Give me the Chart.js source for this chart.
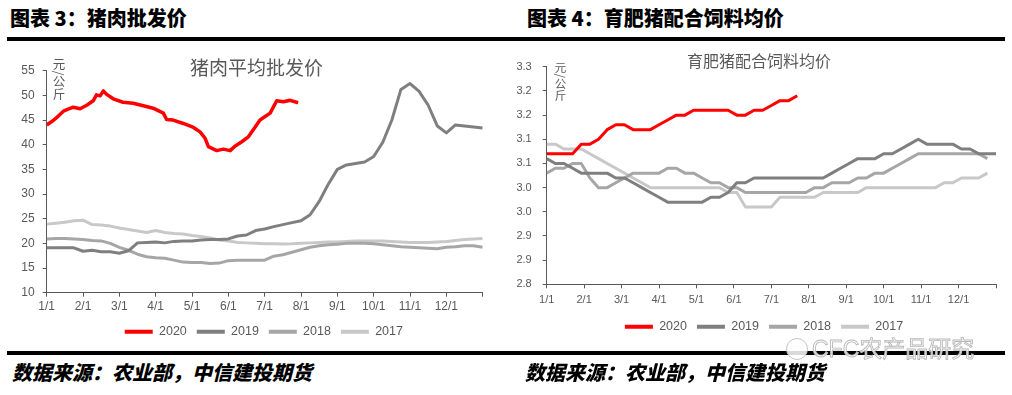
<!DOCTYPE html>
<html lang="zh-CN">
<head>
<meta charset="utf-8">
<title>猪肉批发价 / 育肥猪配合饲料均价</title>
<script src="https://cdn.jsdelivr.net/npm/chart.js@4.4.1/dist/chart.umd.min.js"></script>
<style>
  html, body { margin:0; padding:0; background:#fff; }
  body { position:relative; width:1012px; height:395px; overflow:hidden; font-family:"Noto Sans CJK SC","Noto Sans",sans-serif; }
  .hdr { position:absolute; top:5px; height:26px; line-height:26px; font-size:20px; font-weight:900; color:#000; white-space:nowrap; }
  .rule { position:absolute; left:7px; width:998px; height:4px; background:#000; }
  .src { position:absolute; top:359px; line-height:26px; font-size:20px; font-weight:900; font-style:italic; color:#000; white-space:nowrap; }
  .cv { position:absolute; }
  .ttl { position:absolute; color:#595959; white-space:nowrap; line-height:1; }
  .unit { position:absolute; writing-mode:vertical-rl; color:#595959; line-height:1; white-space:nowrap; }
  .wm { position:absolute; left:812px; top:336px; font-size:23px; line-height:26px; color:rgba(255,255,255,0.85); -webkit-text-stroke:0.9px #b8b8b8; white-space:nowrap; font-family:"Liberation Sans","Noto Sans CJK SC",sans-serif; }
  .wmi { position:absolute; left:786px; top:338px; width:20px; height:20px; border:1.5px solid #c4c4c4; border-radius:50%; background:rgba(255,255,255,0.85); }
</style>
</head>
<body>
<div class="hdr" style="left:10px">图表 3：猪肉批发价</div>
<div class="hdr" style="left:527px">图表 4：育肥猪配合饲料均价</div>
<div class="rule" style="top:37px"></div>

<canvas id="pork" class="cv" width="500" height="298" style="left:0;top:50px;width:500px;height:298px"></canvas>
<canvas id="feed" class="cv" width="507" height="298" style="left:505px;top:45px;width:507px;height:298px"></canvas>

<div class="ttl" style="left:190px;top:57px;font-size:19px">猪肉平均批发价</div>
<div class="ttl" style="left:687px;top:52px;font-size:16px">育肥猪配合饲料均价</div>
<div class="unit" style="left:52px;top:58px;font-size:12.5px">元/公斤</div>
<div class="unit" style="left:554px;top:62px;font-size:11.5px">元/公斤</div>

<div class="rule" style="top:351px"></div>
<div class="wmi"></div>
<div class="wm">CFC农产品研究</div>
<div class="src" style="left:12px">数据来源：农业部，中信建投期货</div>
<div class="src" style="left:525px">数据来源：农业部，中信建投期货</div>

<script>
// ---------- shared labels ----------
const monthLabels = ['1/1','2/1','3/1','4/1','5/1','6/1','7/1','8/1','9/1','10/1','11/1','12/1'];
const seriesNames = ['2020','2019','2018','2017'];
const seriesColors = ['#ff0000','#7f7f7f','#a6a6a6','#c8c8c8'];

// ---------- 图表3 猪肉平均批发价 (元/公斤), x = position in year (months) ----------
const porkGridX = [0,0.25,0.5,0.75,1,1.25,1.5,1.75,2,2.25,2.5,2.75,3,3.25,3.5,3.75,4,4.25,4.5,4.75,5,5.25,5.5,5.75,6,6.25,6.5,6.75,7,7.25,7.5,7.75,8,8.25,8.5,8.75,9,9.25,9.5,9.75,10,10.25,10.5,10.75,11,11.25,11.5,11.75,12];
const pork2020X = [0,0.18,0.32,0.46,0.59,0.73,0.92,1.1,1.28,1.37,1.47,1.56,1.65,1.83,2.1,2.38,2.66,2.93,3.21,3.3,3.48,3.76,4.04,4.22,4.36,4.45,4.68,4.86,5.05,5.18,5.37,5.55,5.7,5.87,6.15,6.33,6.51,6.7,6.92];
const pork2020 = [44.0,44.9,45.8,46.8,47.2,47.6,47.3,48.0,48.9,50.1,49.9,50.9,50.2,49.3,48.6,48.4,47.9,47.4,46.4,45.1,45.0,44.3,43.5,42.6,41.3,39.6,38.8,39.1,38.8,39.7,40.6,41.6,43.2,45.0,46.4,48.9,48.7,49.0,48.5];
const pork2019 = [19.1,19.1,19.1,19.1,18.4,18.6,18.3,18.3,18.0,18.5,20.1,20.2,20.3,20.1,20.4,20.5,20.5,20.7,20.8,20.8,20.9,21.5,21.7,22.6,22.9,23.4,23.8,24.2,24.6,25.8,28.5,32.0,35.0,35.9,36.2,36.5,37.6,40.5,45.0,51.2,52.4,50.8,48.0,43.8,42.4,44.0,43.8,43.6,43.4];
const pork2018 = [20.9,21.0,21.0,20.9,20.8,20.6,20.5,20.0,19.2,18.6,17.8,17.3,17.1,17.0,16.6,16.2,16.1,16.1,15.9,16.0,16.5,16.6,16.6,16.6,16.6,17.4,17.7,18.2,18.7,19.2,19.5,19.7,19.8,20.0,20.0,20.0,19.9,19.7,19.5,19.3,19.2,19.1,19.0,18.9,19.2,19.3,19.5,19.5,19.2];
const pork2017 = [23.9,24.1,24.3,24.6,24.7,23.8,23.7,23.5,23.1,22.8,22.5,22.2,22.6,22.2,22.0,21.9,21.6,21.4,21.1,20.7,20.5,20.2,20.1,20.0,19.9,19.9,19.85,19.9,20.0,20.1,20.2,20.3,20.3,20.4,20.5,20.5,20.5,20.5,20.4,20.3,20.2,20.2,20.2,20.3,20.4,20.6,20.8,20.9,21.0];
const porkYTicks = {min:10, max:55, step:5};

// ---------- 图表4 育肥猪配合饲料均价 (元/公斤), weekly ----------
const feed2020 = [3.07,3.07,3.07,3.07,3.09,3.09,3.10,3.12,3.13,3.13,3.12,3.12,3.12,3.13,3.14,3.15,3.15,3.16,3.16,3.16,3.16,3.16,3.15,3.15,3.16,3.16,3.17,3.18,3.18,3.19];
const feed2019 = [3.06,3.05,3.05,3.04,3.03,3.03,3.03,3.03,3.02,3.02,3.01,3.00,2.99,2.98,2.97,2.97,2.97,2.97,2.97,2.98,2.98,2.99,3.01,3.01,3.02,3.02,3.02,3.02,3.02,3.02,3.02,3.02,3.02,3.03,3.04,3.05,3.06,3.06,3.06,3.07,3.07,3.08,3.09,3.10,3.09,3.09,3.09,3.09,3.08,3.08,3.07,3.07,3.07];
const feed2018 = [3.03,3.04,3.04,3.05,3.05,3.02,3.00,3.00,3.01,3.02,3.03,3.03,3.03,3.03,3.04,3.04,3.03,3.03,3.02,3.01,3.01,3.00,3.00,2.99,2.99,2.99,2.99,2.99,2.99,2.99,2.99,3.00,3.00,3.01,3.01,3.01,3.02,3.02,3.03,3.03,3.04,3.05,3.06,3.07,3.07,3.07,3.07,3.07,3.07,3.07,3.07,3.06];
const feed2017 = [3.09,3.09,3.08,3.08,3.08,3.07,3.06,3.05,3.04,3.03,3.02,3.01,3.00,3.00,3.00,3.00,3.00,3.00,3.00,3.00,3.00,2.99,2.99,2.96,2.96,2.96,2.96,2.98,2.98,2.98,2.98,2.98,2.99,2.99,2.99,2.99,2.99,3.00,3.00,3.00,3.00,3.00,3.00,3.00,3.00,3.00,3.01,3.01,3.02,3.02,3.02,3.03];
const feedYTicks = {min:2.8, max:3.25, step:0.05};
const weeksPerYear = 52;

// ---------- helpers ----------
const axisColor = '#595959';
const textColor = '#595959';
const pairs = (xs, ys) => ys.map((y, i) => ({x: xs[i], y}));
const weekly = ys => ys.map((y, i) => ({x: i * 12 / weeksPerYear, y}));

// moves the bottom legend sideways after layout (chart area untouched)
const legendShift = {
  id: 'legendShift',
  afterLayout(chart, args, opts) {
    const lg = chart.legend;
    if (lg && opts && opts.dx) { lg.left += opts.dx; lg.right += opts.dx; }
  }
};

function makeChart(id, cfg) {
  return new Chart(document.getElementById(id), {
    type: 'line',
    plugins: [legendShift],
    data: {
      datasets: cfg.series.map((s, i) => ({
        label: seriesNames[i], data: s,
        borderColor: seriesColors[i], backgroundColor: seriesColors[i],
        borderWidth: cfg.lw[i], pointRadius: 0, tension: 0, fill: false,
        borderJoinStyle: 'round', borderCapStyle: 'butt'
      }))
    },
    options: {
      responsive: false, animation: false, events: [],
      layout: { padding: cfg.pad },
      plugins: {
        tooltip: { enabled: false },
        legendShift: { dx: cfg.legendDx },
        legend: {
          position: 'bottom',
          labels: {
            boxWidth: 28, boxHeight: 4, padding: 10, color: textColor,
            font: { family: 'Liberation Sans', size: 12.5 },
            generateLabels(chart) {
              const items = Chart.defaults.plugins.legend.labels.generateLabels(chart);
              items.forEach(it => { it.lineWidth = 0; });
              return items;
            }
          }
        }
      },
      scales: {
        x: {
          type: 'linear', min: 0, max: 12,
          ticks: { stepSize: 1, autoSkip: false, maxRotation: 0, padding: cfg.xpad, color: textColor,
                   font: { family: 'Liberation Sans', size: cfg.xfont },
                   callback: v => (v < 12 ? monthLabels[v] : '') },
          grid: { drawOnChartArea: false, drawTicks: true, tickLength: 4, color: axisColor },
          border: { color: axisColor, width: 1 },
          afterFit: s => { s.height = cfg.xh; }
        },
        y: {
          min: cfg.y.min, max: cfg.y.max,
          ticks: { stepSize: cfg.y.step, padding: cfg.ypad, color: textColor,
                   font: { family: 'Liberation Sans', size: cfg.yfont },
                   callback: cfg.yfmt },
          grid: { drawOnChartArea: false, drawTicks: true, tickLength: 4, color: axisColor },
          border: { color: axisColor, width: 1 },
          afterFit: s => { s.width = cfg.yw; }
        }
      }
    }
  });
}

makeChart('pork', {
  series: [pairs(pork2020X, pork2020), pairs(porkGridX, pork2019), pairs(porkGridX, pork2018), pairs(porkGridX, pork2017)],
  lw: [3.5, 3, 3, 3],
  pad: { left: 0, right: 17.3, top: 20.7, bottom: 0 },
  yw: 46.7, xh: 22.8, xpad: 3, ypad: 8, xfont: 12, yfont: 12,
  legendDx: 22.5,
  y: porkYTicks,
  yfmt: v => String(v)
});

makeChart('feed', {
  series: [weekly(feed2020), weekly(feed2019), weekly(feed2018), weekly(feed2017)],
  lw: [3, 3, 3, 3],
  pad: { left: 0, right: 16, top: 21.8, bottom: 0 },
  yw: 41.7, xh: 26.2, xpad: 5, ypad: 11, xfont: 11, yfont: 11,
  legendDx: 13.5,
  y: feedYTicks,
  yfmt: v => (Math.round(v * 10 + 1e-9) / 10).toFixed(1)
});
</script>
</body>
</html>
